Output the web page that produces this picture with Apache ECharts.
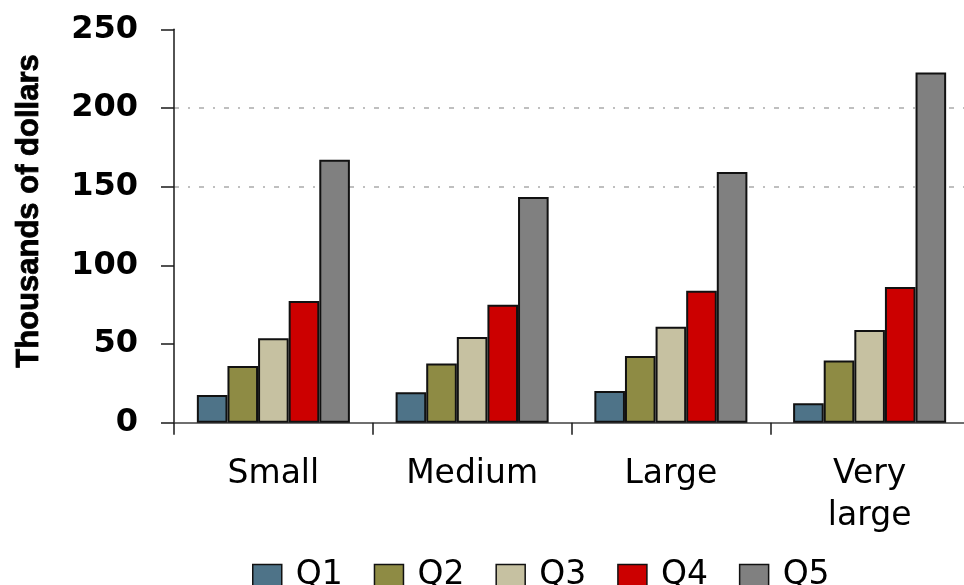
<!DOCTYPE html>
<html>
<head>
<meta charset="utf-8">
<script src="https://cdn.jsdelivr.net/npm/echarts@6/dist/echarts.min.js"></script>
<style>
  html, body { margin: 0; padding: 0; background: #ffffff; }
  #chart { width: 964px; height: 585px; }
</style>
</head>
<body>
<div id="chart"></div>
<script>
// Firm size categories along the x axis
const categories = ['Small', 'Medium', 'Large', 'Very large'];

// Quintile values, thousands of dollars
const q1 = [17.6, 19.3, 20.1, 12.3];
const q2 = [36.0, 37.7, 42.4, 39.6];
const q3 = [53.6, 54.4, 61.0, 58.9];
const q4 = [77.3, 75.0, 83.9, 86.2];
const q5 = [167.1, 143.4, 159.3, 222.6];

const seriesNames = ['Q1', 'Q2', 'Q3', 'Q4', 'Q5'];
const seriesValues = [q1, q2, q3, q4, q5];
const seriesColors = ['#4e7388', '#8e8b44', '#c6c1a1', '#cc0000', '#808080'];

// y axis ticks
const yMin = 0;
const yMax = 250;
const yStep = 50;

const chart = echarts.init(document.getElementById('chart'), null, { renderer: 'canvas' });

const series = seriesNames.map((name, i) => ({
  name: name,
  type: 'bar',
  data: seriesValues[i],
  barGap: '0%',
  barCategoryGap: '23%',
  itemStyle: {
    color: seriesColors[i],
    borderColor: '#111111',
    borderWidth: 2
  },
  emphasis: { disabled: true }
}));

chart.setOption({
  backgroundColor: '#ffffff',
  animation: false,
  grid: {
    left: 174,
    width: 795,
    top: 29.3,
    bottom: 162.3,
    containLabel: false,
    outerBoundsMode: 'none'
  },
  legend: {
    data: seriesNames,
    left: 247,
    top: 554,
    itemWidth: 29,
    itemHeight: 22,
    itemGap: 31,
    icon: 'rect',
    itemStyle: { borderColor: '#111111', borderWidth: 1.5 },
    textStyle: {
      fontFamily: 'DejaVu Sans',
      fontSize: 33,
      color: '#000000',
      padding: [0, 0, 0, 9]
    }
  },
  xAxis: {
    type: 'category',
    data: categories,
    axisLine: { show: true, lineStyle: { color: '#404040', width: 1.5 } },
    axisTick: { show: true, length: 12, inside: false, lineStyle: { color: '#1a1a1a', width: 1.5 } },
    axisLabel: {
      margin: 31,
      fontFamily: 'DejaVu Sans',
      fontSize: 33,
      lineHeight: 42,
      color: '#000000',
      verticalAlign: 'top',
      formatter: v => v.replace(' ', '\n')
    },
    splitLine: { show: false }
  },
  yAxis: {
    type: 'value',
    min: yMin,
    max: yMax,
    interval: yStep,
    name: 'Thousands of dollars',
    nameLocation: 'middle',
    nameRotate: 90,
    nameGap: 129,
    nameTextStyle: {
      fontFamily: 'Liberation Sans',
      fontWeight: 'bold',
      fontSize: 31,
      color: '#000000',
      textBorderColor: '#000000',
      textBorderWidth: 0.8,
      padding: [0, 0, 0, 30]
    },
    axisLine: { show: true, lineStyle: { color: '#1a1a1a', width: 1.5 } },
    axisTick: { show: true, length: 13, inside: false, lineStyle: { color: '#1a1a1a', width: 1.5 } },
    axisLabel: {
      margin: 36,
      fontFamily: 'DejaVu Sans',
      fontWeight: 'bold',
      fontSize: 32,
      color: '#000000'
    },
    splitLine: {
      show: true,
      showMinLine: true,
      showMaxLine: true,
      lineStyle: {
        // only the 150 and 200 gridlines are drawn
        color: ['rgba(0,0,0,0)', 'rgba(0,0,0,0)', 'rgba(0,0,0,0)', '#aaaaaa', '#aaaaaa', 'rgba(0,0,0,0)'],
        width: 1.5,
        type: [5, 9, 2, 9]
      }
    }
  },
  series: series
});
</script>
</body>
</html>
